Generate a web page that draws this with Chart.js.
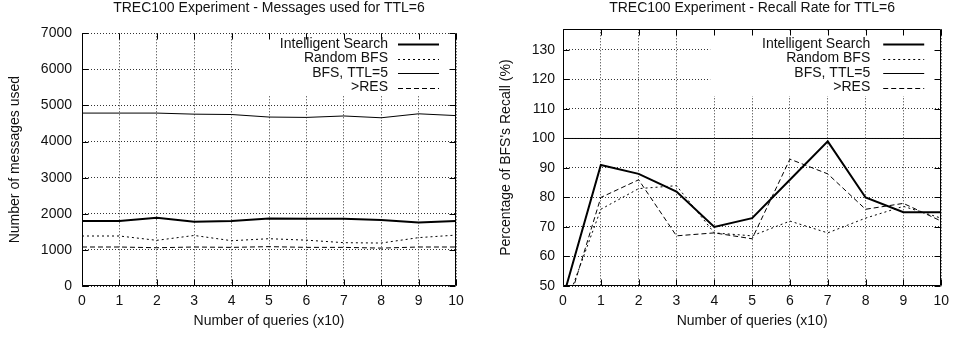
<!DOCTYPE html>
<html>
<head>
<meta charset="utf-8">
<script src="https://cdn.jsdelivr.net/npm/chart.js@4.4.1/dist/chart.umd.min.js"></script>
<style>
    html, body { margin: 0; padding: 0; background: #fff; }
    .panel { position: absolute; top: 0; width: 478px; height: 338px; }
    #p1 { left: 0; }
    #p2 { left: 478px; }
</style>
</head>
<body>
<div class="panel" id="p1"><canvas id="c1"></canvas></div>
<div class="panel" id="p2"><canvas id="c2"></canvas></div>
<script>
// ---- datos ----
var queries = ['0', '1', '2', '3', '4', '5', '6', '7', '8', '9', '10'];
var seriesNames = ['Intelligent Search', 'Random BFS', 'BFS, TTL=5', '>RES'];

// mensajes usados (TTL=6)
var msgIntelligent = [1800, 1800, 1890, 1780, 1800, 1870, 1860, 1860, 1830, 1760, 1800];
var msgRandomBfs   = [1385, 1385, 1265, 1400, 1255, 1310, 1270, 1200, 1190, 1340, 1410];
var msgBfsTtl5     = [4790, 4790, 4790, 4760, 4750, 4680, 4670, 4710, 4660, 4770, 4720];
var msgRes         = [1080, 1080, 1060, 1080, 1070, 1090, 1070, 1070, 1050, 1080, 1080];

// recall (% del BFS)
var recIntelligent = [46, 91, 88, 82, 70, 73, 86, 99, 80, 75, 75];
var recRandomBfs   = [41, 76, 83, 84, 68, 67, 72, 68, 73, 77, 73];
var recBfsTtl5     = [100, 100, 100, 100, 100, 100, 100, 100, 100, 100, 100];
var recRes         = [38, 80, 86, 67, 68, 66, 93, 88, 76, 78, 72];

var FONT = '"Liberation Sans", Arial, Helvetica, sans-serif';
var INK = '#111';

// estilo de cada serie (grosor, trazo)
var lineW = [2, 1, 1, 1];
var lineDash = [[], [2, 3], [], [5, 3]];

function datasets(values) {
    return values.map(function (v, i) {
        return {
            label: seriesNames[i],
            data: v,
            borderColor: '#000',
            borderWidth: lineW[i],
            borderDash: lineDash[i],
            pointRadius: 0,
            tension: 0,
            fill: false,
            clip: 0
        };
    });
}

// marco estilo gnuplot + ticks hacia dentro + leyenda dentro del área
var gnuFrame = {
    id: 'gnuFrame',
    beforeDatasetsDraw: function (chart, args, o) {
        var a = chart.chartArea, ctx = chart.ctx;
        // caja blanca de la leyenda (tapa la grilla)
        ctx.save();
        ctx.fillStyle = '#fff';
        ctx.fillRect(a.right - o.keyWidth, a.top + 2, o.keyWidth - 1, o.keyBottom - a.top - 2);
        ctx.restore();
    },
    afterDatasetsDraw: function (chart, args, o) {
        var a = chart.chartArea, ctx = chart.ctx;
        var xs = chart.scales.x, ys = chart.scales.y;
        var L = Math.round(a.left) + 0.5, R = Math.round(a.right) - 0.5;
        var T = Math.round(a.top) + 0.5, B = Math.round(a.bottom) - 0.5;
        ctx.save();
        ctx.strokeStyle = '#000';
        ctx.lineWidth = 1;
        ctx.setLineDash([]);
        ctx.beginPath();
        ctx.moveTo(L, T); ctx.lineTo(L, B); ctx.lineTo(R, B); ctx.lineTo(R, T);
        if (o.top) ctx.lineTo(L, T);
        ctx.stroke();

        var tk = 6;
        ctx.beginPath();
        xs.ticks.forEach(function (t, i) {
            var px = Math.round(xs.getPixelForTick(i)) + 0.5;
            ctx.moveTo(px, B); ctx.lineTo(px, B - tk);
            ctx.moveTo(px, T); ctx.lineTo(px, T + tk);
        });
        ys.ticks.forEach(function (t) {
            var py = Math.round(ys.getPixelForValue(t.value)) + 0.5;
            ctx.moveTo(L, py); ctx.lineTo(L + tk, py);
            ctx.moveTo(R, py); ctx.lineTo(R - tk, py);
        });
        ctx.stroke();

        // leyenda: texto a la derecha, muestra de línea después
        ctx.font = '14px ' + FONT;
        ctx.textAlign = 'right';
        ctx.textBaseline = 'middle';
        ctx.fillStyle = INK;
        chart.data.datasets.forEach(function (ds, i) {
            var y = o.keyY + i * 14.5;
            ctx.fillText(ds.label, a.right - o.textGap, y);
            ctx.save();
            ctx.lineWidth = ds.borderWidth;
            ctx.setLineDash(ds.borderDash || []);
            ctx.beginPath();
            ctx.moveTo(a.right - 58, Math.round(y) + 0.5);
            ctx.lineTo(a.right - 17, Math.round(y) + 0.5);
            ctx.stroke();
            ctx.restore();
        });
        ctx.restore();
    }
};

function makeChart(id, cfg) {
    return new Chart(document.getElementById(id), {
        type: 'line',
        data: { labels: queries, datasets: datasets(cfg.values) },
        options: {
            responsive: true,
            maintainAspectRatio: false,
            animation: false,
            events: [],
            layout: { padding: { left: 0, right: cfg.padRight, top: 0, bottom: 0 } },
            plugins: {
                legend: { display: false },
                tooltip: { enabled: false },
                title: {
                    display: true,
                    fullSize: false,
                    text: cfg.title,
                    color: INK,
                    font: { family: FONT, size: 14, weight: 'normal' },
                    padding: { top: 0, bottom: cfg.titleGap }
                },
                gnuFrame: {
                    top: cfg.frameTop,
                    keyWidth: cfg.keyWidth,
                    keyBottom: 96,
                    keyY: 44,
                    textGap: cfg.textGap
                }
            },
            scales: {
                x: {
                    type: 'category',
                    offset: false,
                    afterFit: function (s) { s.height = 52; },
                    grid: { color: '#333', lineWidth: 1, drawTicks: false },
                    border: { display: false, dash: [1, 2] },
                    ticks: { color: INK, padding: 7, maxRotation: 0, font: { family: FONT, size: 14 } },
                    title: {
                        display: true, text: 'Number of queries (x10)', color: INK,
                        font: { family: FONT, size: 14 }, padding: { top: 0, bottom: 8 }
                    }
                },
                y: {
                    min: cfg.yMin,
                    max: cfg.yMax,
                    afterFit: function (s) { s.width = cfg.yWidth; },
                    grid: { color: '#333', lineWidth: 1, drawTicks: false },
                    border: { display: false, dash: [1, 2] },
                    ticks: {
                        stepSize: cfg.yStep, includeBounds: false, color: INK,
                        padding: cfg.yTickPad, font: { family: FONT, size: 14 },
                        callback: function (v) { return String(v); }
                    },
                    title: {
                        display: true, text: cfg.yTitle, color: INK,
                        font: { family: FONT, size: 14 }, padding: { top: cfg.yTitlePad, bottom: 0 }
                    }
                }
            }
        },
        plugins: [gnuFrame]
    });
}

makeChart('c1', {
    title: 'TREC100 Experiment - Messages used for TTL=6',
    values: [msgIntelligent, msgRandomBfs, msgBfsTtl5, msgRes],
    yTitle: 'Number of messages used',
    yMin: 0, yMax: 7000, yStep: 1000,
    yWidth: 82, yTickPad: 10, yTitlePad: 6.6,
    padRight: 22, titleGap: 16.5,
    frameTop: false, keyWidth: 217, textGap: 68
});

makeChart('c2', {
    title: 'TREC100 Experiment - Recall Rate for TTL=6',
    values: [recIntelligent, recRandomBfs, recBfsTtl5, recRes],
    yTitle: "Percentage of BFS's Recall (%)",
    yMin: 50, yMax: 137, yStep: 10,
    yWidth: 85, yTickPad: 8, yTitlePad: 19.6,
    padRight: 10, titleGap: 12.5,
    frameTop: true, keyWidth: 231, textGap: 71
});
</script>
</body>
</html>
